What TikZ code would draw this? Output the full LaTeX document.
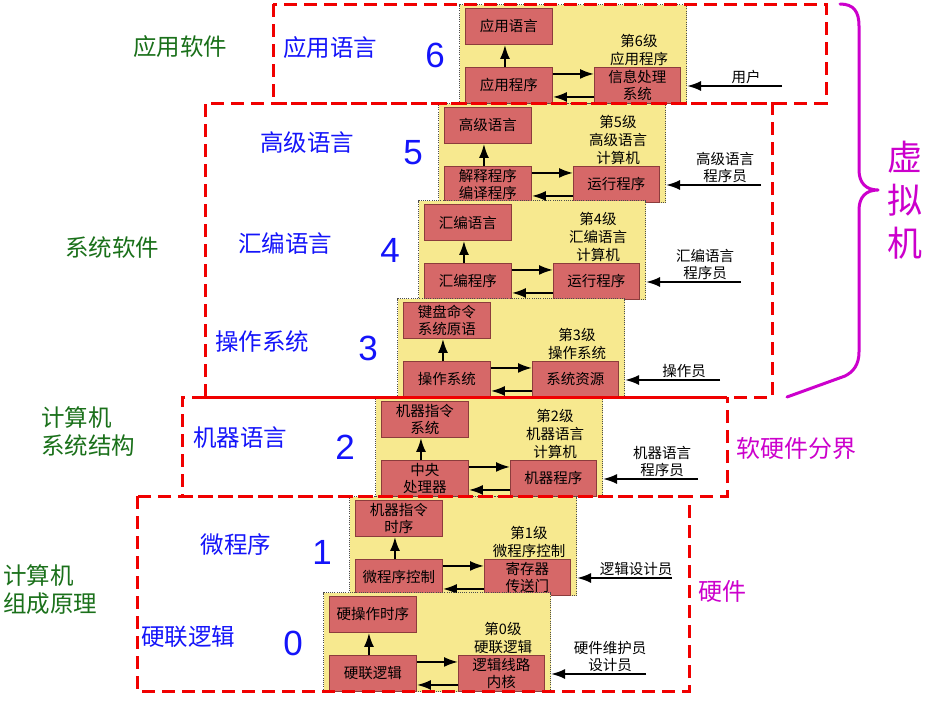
\documentclass[tikz,border=0pt]{standalone}
\usepackage{fontspec}
\setmainfont{Noto Sans CJK SC}
\newfontfamily\arialfont{Liberation Sans}
\usetikzlibrary{arrows.meta,calc}
\definecolor{boxred}{RGB}{214,104,104}
\definecolor{boxline}{RGB}{140,60,60}
\definecolor{panelyellow}{RGB}{247,233,143}
\definecolor{bluetext}{RGB}{20,20,250}
\definecolor{greentext}{RGB}{26,112,26}
\definecolor{magentatext}{RGB}{204,0,204}
\definecolor{reddash}{RGB}{240,0,0}
\tikzset{
  panel/.style={draw=black!70, dash pattern=on 1pt off 1.2pt, line width=1pt, fill=panelyellow, inner sep=0pt},
  rbox/.style={draw=boxline, line width=0.9pt, fill=boxred, minimum width=87pt, minimum height=36pt, inner sep=0pt, align=center, font=\fontsize{14.5}{17}\selectfont},
  lvl/.style={inner sep=0pt, align=center, font=\fontsize{14.5}{18}\selectfont},
  optext/.style={inner sep=0pt, align=center, font=\fontsize{14.5}{17}\selectfont},
  arr/.style={line width=2pt, -{Latex[length=14pt,width=10pt]}},
  redbox/.style={draw=reddash, line width=3pt, dash pattern=on 13pt off 7pt},
  redsolid/.style={draw=reddash, line width=3pt},
  bluelab/.style={text=bluetext, inner sep=0pt, font=\fontsize{23.5}{27}\selectfont},
  bignum/.style={text=bluetext, inner sep=0pt, font=\arialfont\fontsize{35}{35}\selectfont},
  greenlab/.style={text=greentext, inner sep=0pt, align=left, font=\fontsize{23.5}{28}\selectfont},
  maglab/.style={text=magentatext, inner sep=0pt, font=\fontsize{24}{27}\selectfont},
}
\newcommand{\mklevel}[8]{%
  \node[panel, anchor=north west, minimum width=227pt, minimum height=99pt] (p#1) at (#2,#3) {};
  \node[rbox, anchor=north west] (t#1) at ({#2+6},{#3+4}) {#4};
  \node[rbox, anchor=north west] (b#1) at ({#2+6},{#3+63}) {#5};
  \node[rbox, anchor=north west, minimum width=86pt] (r#1) at ({#2+135},{#3+63}) {#6};
  \node[lvl, anchor=south] (l#1) at ({#2+180},{#3+62}) {#7};
  \node[optext, anchor=south] (o#1) at ({#2+287},{#3+80}) {#8};
  \coordinate (u#1) at ({#2+323},{#3+82});
  \draw[arr] ([xshift=-4pt]b#1.north) -- ([xshift=-4pt]t#1.south);
  \draw[arr] ([yshift=11.5pt]b#1.east) -- ([yshift=11.5pt]b#1.east -| r#1.west);
  \draw[arr] ([yshift=-11.5pt]r#1.west) -- ([yshift=-11.5pt]r#1.west -| b#1.east);
  \draw[arr] (u#1) -- (u#1 -| p#1.east);
}
\begin{document}
\begin{tikzpicture}[x=1pt,y=-1pt]
\useasboundingbox (0,0) rectangle (937,707);
\fill[white] (0,0) rectangle (937,707);
% levels
\mklevel{6}{459}{4}{应用语言}{应用程序}{信息处理\\系统}{第6级\\应用程序}{用户}
\mklevel{5}{438}{103}{高级语言}{解释程序\\编译程序}{运行程序}{第5级\\高级语言\\计算机}{高级语言\\程序员}
\mklevel{4}{418}{200}{汇编语言}{汇编程序}{运行程序}{第4级\\汇编语言\\计算机}{汇编语言\\程序员}
\mklevel{3}{397}{298}{键盘命令\\系统原语}{操作系统}{系统资源}{第3级\\操作系统}{操作员}
\mklevel{2}{375}{397}{机器指令\\系统}{中央\\处理器}{机器程序}{第2级\\机器语言\\计算机}{机器语言\\程序员}
\mklevel{1}{349}{496}{机器指令\\时序}{微程序控制}{寄存器\\传送门}{第1级\\微程序控制}{逻辑设计员}
\mklevel{0}{323}{592}{硬操作时序}{硬联逻辑}{逻辑线路\\内核}{第0级\\硬联逻辑}{硬件维护员\\设计员}
% red boundaries
\draw[redbox] (273,4) rectangle (826,103);
\draw[redbox] (205,397) -- (205,103) -- (772,103) -- (772,397) -- (727,397);
\draw[redsolid] (205,397) -- (727,397);
\draw[redbox] (205,397) -- (182,397) -- (182,496) -- (727,496) -- (727,397);
\draw[redbox] (137,496) rectangle (689,691);
% blue labels
\node[bluelab] (bl6) at (330,48) {应用语言};
\node[bluelab] (bl5) at (307,143) {高级语言};
\node[bluelab] (bl4) at (285,243) {汇编语言};
\node[bluelab] (bl3) at (262,342) {操作系统};
\node[bluelab] (bl2) at (240,438) {机器语言};
\node[bluelab] (bl1) at (236,545) {微程序};
\node[bluelab] (bl0) at (188,637) {硬联逻辑};
\node[bignum] (n6) at (435,55) {6};
\node[bignum] (n5) at (413,153) {5};
\node[bignum] (n4) at (390,250) {4};
\node[bignum] (n3) at (368,348) {3};
\node[bignum] (n2) at (345,447) {2};
\node[bignum] (n1) at (322,552) {1};
\node[bignum] (n0) at (293,643) {0};
% green labels
\node[greenlab] (g1) at (180,47) {应用软件};
\node[greenlab] (g2) at (112,248) {系统软件};
\node[greenlab, anchor=west] (g3) at (41,432) {计算机\\系统结构};
\node[greenlab, anchor=west] (g4) at (3,590) {计算机\\组成原理};
% magenta
\node[maglab] (m1) at (796,448) {软硬件分界};
\node[maglab] (m2) at (722,591) {硬件};
\node[text=magentatext, inner sep=0pt, align=center, font=\fontsize{35}{43}\selectfont] (m3) at (905,200) {虚\\拟\\机};
\draw[magentatext, line width=3pt, line cap=round, line join=round]
  (840,4) .. controls (854,4) and (859,12) .. (859,26) -- (859,170)
  .. controls (859,183) and (866,190) .. (878,190)
  .. controls (866,190) and (859,197) .. (859,210) -- (859,352)
  .. controls (859,365) and (853,372) .. (845,376) -- (787,397);
\end{tikzpicture}
\end{document}
